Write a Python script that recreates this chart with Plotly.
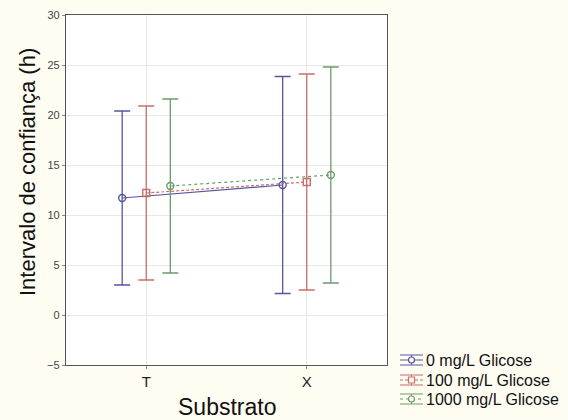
import plotly.graph_objects as go

categories = ["T", "X"]
series_names = ["0 mg/L Glicose", "100 mg/L Glicose", "1000 mg/L Glicose"]
means = {
    "0 mg/L Glicose": [11.7, 13.0],
    "100 mg/L Glicose": [12.2, 13.3],
    "1000 mg/L Glicose": [12.9, 14.0],
}
ci_half = {
    "0 mg/L Glicose": [8.7, 10.85],
    "100 mg/L Glicose": [8.7, 10.8],
    "1000 mg/L Glicose": [8.7, 10.8],
}
y_title = "Intervalo de confiança (h)"
x_title = "Substrato"

offsets = [-0.15, 0.0, 0.15]
colors = ["#5656a0", "#c86e6a", "#6a9c6a"]
dashes = ["solid", "3px,2px", "dot"]
symbols = ["circle-open", "square-open", "circle-open"]

W, H = 568, 420
L, R, T, B = 66, 181, 15, 55
PW, PH = W - L - R, H - T - B


def px_x(p):
    return (p - L) / PW


def px_y(p):
    return (H - B - p) / PH


fig = go.Figure()
for name, off, col, dsh, sym in zip(series_names, offsets, colors, dashes, symbols):
    xs = [i + off for i in range(len(categories))]
    fig.add_trace(go.Scatter(
        x=xs, y=means[name], name=name, mode="lines+markers",
        line=dict(color=col, width=1.2, dash=dsh),
        marker=dict(symbol=sym, size=7, color=col, line=dict(width=1.4, color=col)),
        error_y=dict(type="data", array=ci_half[name], color=col, thickness=1.3, width=8),
        showlegend=False,
    ))

shapes = []
annotations = []
# custom legend
row_y = [360, 380, 399]
gx0, gx1 = 400, 423
for name, col, dsh, sym, ry in zip(series_names, colors, dashes, symbols, row_y):
    for dy in (-5, 5):
        shapes.append(dict(type="line", xref="paper", yref="paper",
                           x0=px_x(gx0), x1=px_x(gx1), y0=px_y(ry + dy), y1=px_y(ry + dy),
                           line=dict(color=col, width=1)))
    shapes.append(dict(type="line", xref="paper", yref="paper",
                       x0=px_x(gx0), x1=px_x(gx1), y0=px_y(ry), y1=px_y(ry),
                       line=dict(color=col, width=1, dash=dsh)))
    shapes.append(dict(type="line", xref="paper", yref="paper",
                       x0=px_x((gx0 + gx1) / 2), x1=px_x((gx0 + gx1) / 2),
                       y0=px_y(ry - 5), y1=px_y(ry + 5),
                       line=dict(color=col, width=1)))
    cx = (gx0 + gx1) / 2
    shapes.append(dict(type="circle" if "circle" in sym else "rect", xref="paper", yref="paper",
                       x0=px_x(cx - 3), x1=px_x(cx + 3), y0=px_y(ry - 3), y1=px_y(ry + 3),
                       line=dict(color=col, width=1.2), fillcolor="#fffcf2"))
    annotations.append(dict(text=name, xref="paper", yref="paper",
                            x=px_x(gx1 + 1), y=px_y(ry), xanchor="left", yanchor="middle",
                            showarrow=False, font=dict(size=16, color="#111")))

annotations.append(dict(text=y_title, xref="paper", yref="paper", textangle=-90,
                        x=px_x(27), y=px_y(172), xanchor="center", yanchor="middle",
                        showarrow=False, font=dict(size=22, color="#111")))
annotations.append(dict(text=x_title, xref="paper", yref="paper",
                        x=px_x(227), y=px_y(407), xanchor="center", yanchor="middle",
                        showarrow=False, font=dict(size=23, color="#111")))

fig.update_layout(
    width=W, height=H,
    margin=dict(l=L, r=R, t=T, b=B, autoexpand=False),
    paper_bgcolor="#fffcf2", plot_bgcolor="#ffffff",
    font=dict(family="Liberation Sans, Arial, sans-serif", color="#000"),
    showlegend=False,
    shapes=shapes,
    annotations=annotations,
)
fig.update_xaxes(
    range=[-0.5, 1.5], tickmode="array", tickvals=[0, 1], ticktext=categories,
    showgrid=True, gridcolor="#e8e8e8", zeroline=False,
    showline=True, linecolor="#555", linewidth=1.3, mirror=True,
    ticks="outside", ticklen=3, tickcolor="#888",
    tickfont=dict(size=15, color="#222"),
)
fig.update_yaxes(
    range=[-5, 30], tickmode="linear", tick0=-5, dtick=5,
    showgrid=True, gridcolor="#e8e8e8", zeroline=False,
    showline=True, linecolor="#555", linewidth=1.3, mirror=True,
    ticks="outside", ticklen=3, tickcolor="#888",
    tickfont=dict(size=11, color="#444"),
)

fig.write_html("out.html")
